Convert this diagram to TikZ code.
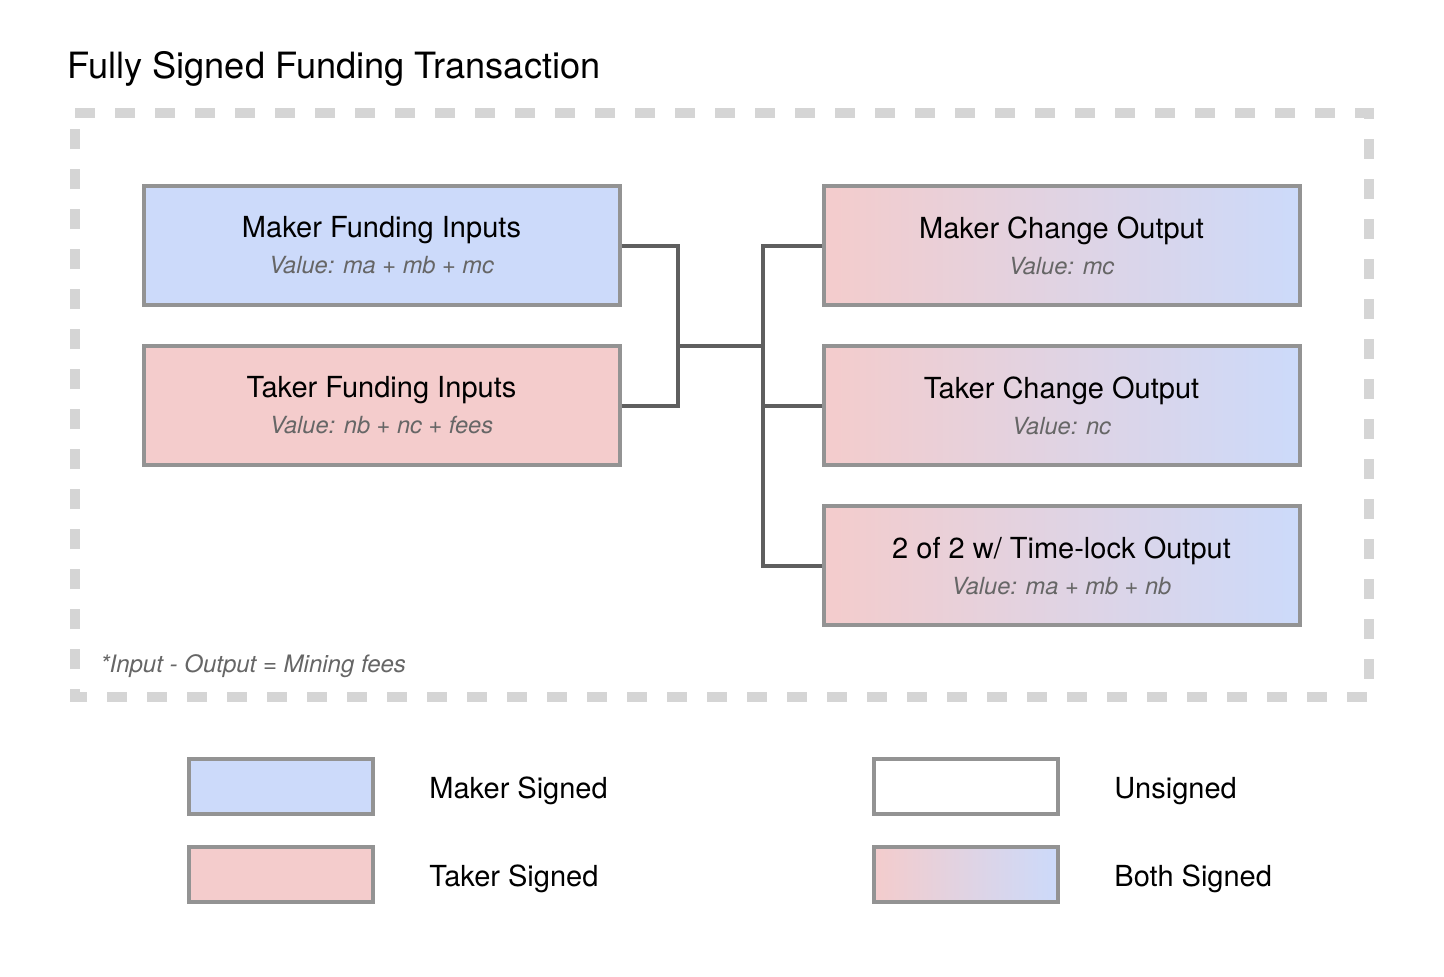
\documentclass[tikz,border=0pt]{standalone}
\usepackage{fontspec}
\setmainfont{TeX Gyre Heros}
\usepackage{tikz}
\usetikzlibrary{positioning}
\definecolor{makerblue}{HTML}{CCDAFA}
\definecolor{takerred}{HTML}{F4CCCC}
\definecolor{boxgray}{HTML}{939393}
\definecolor{linegray}{HTML}{5F5F5F}
\definecolor{dashgray}{HTML}{D5D5D5}
\definecolor{valgray}{HTML}{666666}
\newcommand{\boxlabel}[2]{\fontsize{14.5}{17}\selectfont #1\\[6pt]{\fontsize{11.8}{14}\selectfont\itshape\color{valgray}#2}}
\tikzstyle{txbox}=[rectangle,draw=boxgray,line width=2pt,minimum width=238pt,minimum height=59.5pt,align=center,inner sep=0pt]
\tikzstyle{keybox}=[rectangle,draw=boxgray,line width=2pt,minimum width=92pt,minimum height=27.5pt,inner sep=0pt]
\tikzstyle{maker}=[fill=makerblue]
\tikzstyle{taker}=[fill=takerred]
\tikzstyle{both}=[left color=takerred,right color=makerblue]
\tikzstyle{keytext}=[anchor=west,inner sep=0pt,font=\fontsize{14.5}{17}\selectfont]
\tikzstyle{wire}=[draw=linegray,line width=2pt]

\begin{document}
\begin{tikzpicture}[x=0.5pt,y=-0.5pt]
      \useasboundingbox (0,0) rectangle (1444,976);
      \node [anchor=base west,inner sep=0pt,font=\fontsize{18.1}{21}\selectfont] (title) at (67,78) {Fully Signed Funding Transaction};
      \draw [dashgray,line width=5pt,dash pattern=on 10pt off 10pt] (75,113) -- (1369,113) -- (1369,697) -- (75,697) -- cycle;
      % inputs
      \node [txbox,maker] (mfi) at (381.5,245.5) {\boxlabel{Maker Funding Inputs}{Value: ma + mb + mc}};
      \node [txbox,taker] (tfi) [below of=mfi, node distance=80pt] {\boxlabel{Taker Funding Inputs}{Value: nb + nc + fees}};
      % outputs
      \node [txbox,both] (mco) [right of=mfi, node distance=340pt] {\boxlabel{Maker Change Output}{Value: mc}};
      \node [txbox,both] (tco) [below of=mco, node distance=80pt] {\boxlabel{Taker Change Output}{Value: nc}};
      \node [txbox,both] (tlo) [below of=tco, node distance=80pt] {\boxlabel{2 of 2 w/ Time-lock Output}{Value: ma + mb + nb}};
      \node [anchor=base west,inner sep=0pt,font=\fontsize{12}{14}\selectfont\itshape,text=valgray] (note) at (100,672) {*Input - Output = Mining fees};
      \coordinate (jl) at (678,346);
      \coordinate (jr) at (763,346);
      \draw [wire] (mfi.east) -| (jl);
      \draw [wire] (tfi.east) -| (jl);
      \draw [wire] (jl) -- (jr);
      \draw [wire] (jr) |- (mco.west);
      \draw [wire] (jr) |- (tco.west);
      \draw [wire] (jr) |- (tlo.west);
      % legend
      \node [keybox,maker] (kmaker) at (280.5,786.5) {};
      \node [keybox,taker] (ktaker) [below of=kmaker, node distance=44pt] {};
      \node [keybox,fill=white] (kunsigned) [right of=kmaker, node distance=342.5pt] {};
      \node [keybox,both] (kboth) [below of=kunsigned, node distance=44pt] {};
      \node [keytext] (lmaker) at (429,791) {Maker Signed};
      \node [keytext] (ltaker) at (429,879) {Taker Signed};
      \node [keytext] (lunsigned) at (1114,791) {Unsigned};
      \node [keytext] (lboth) at (1114,879) {Both Signed};
    \end{tikzpicture}
\end{document}
